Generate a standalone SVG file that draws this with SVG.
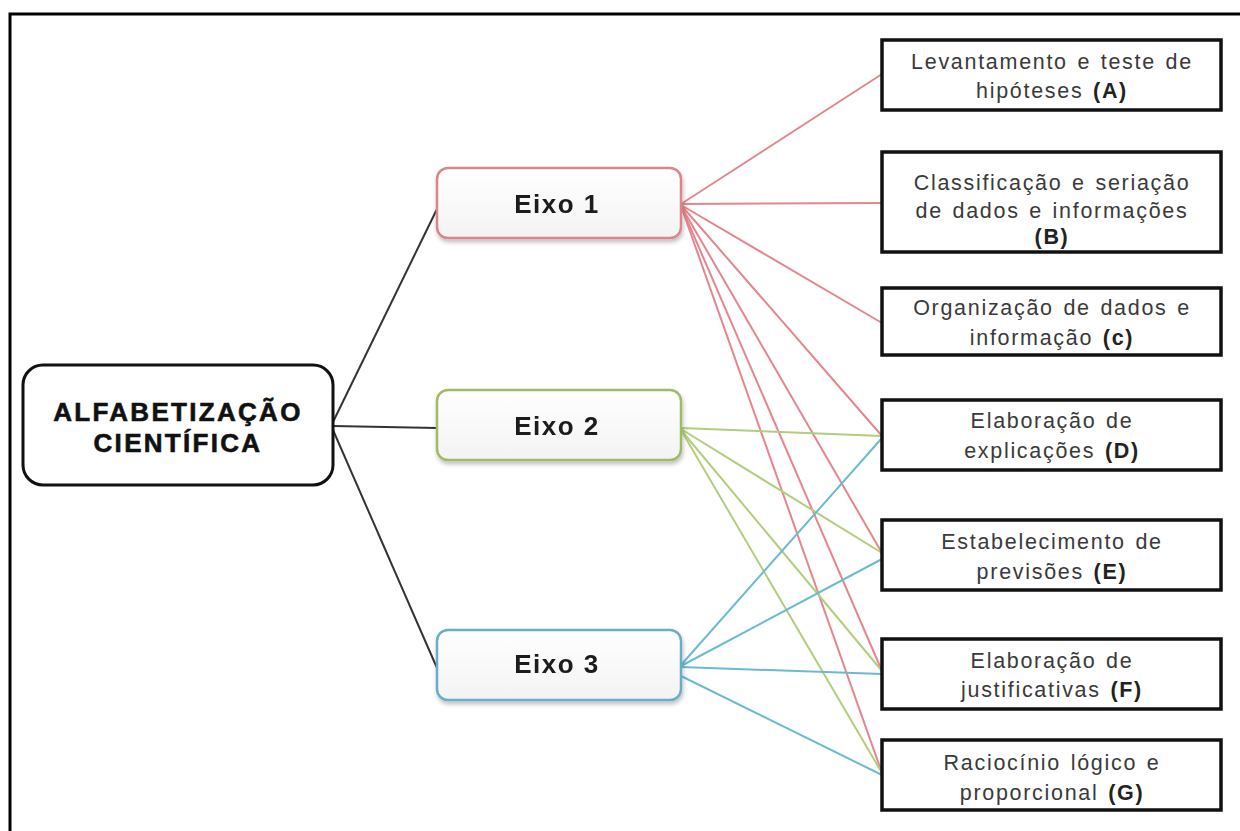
<svg xmlns="http://www.w3.org/2000/svg" width="1240" height="831" viewBox="0 0 1240 831">
<defs>
<style>
.frame{fill:none;stroke:#000;stroke-width:3}
.root{fill:#fff;stroke:#111;stroke-width:3}
.eixo{fill:url(#eg);stroke-width:2.5}
.box{fill:#fff;stroke:#111;stroke-width:3.5}
.t{font-family:"Liberation Sans",Arial,sans-serif;text-anchor:middle}
.rt{font-size:26px;font-weight:bold;fill:#111;stroke:#111;stroke-width:0.6;letter-spacing:2.3px}
.et{font-size:26px;font-weight:bold;fill:#1a1a1a;letter-spacing:1.5px}
.bt{font-size:21.5px;fill:#3a3a3a;letter-spacing:1.7px;word-spacing:2px}
.bt tspan.b{font-weight:bold;fill:#222}
.k{stroke:#333;stroke-width:2;fill:none}
.r{stroke:#e3868e;stroke-width:2;fill:none}
.g{stroke:#b3cd7e;stroke-width:2;fill:none}
.c{stroke:#6cbad0;stroke-width:2;fill:none}
</style>
<linearGradient id="eg" x1="0" y1="0" x2="0" y2="1">
<stop offset="0" stop-color="#ffffff"/>
<stop offset="1" stop-color="#f3f3f3"/>
</linearGradient>
<filter id="sh" x="-10%" y="-20%" width="120%" height="150%">
<feDropShadow dx="1" dy="3" stdDeviation="2" flood-color="#000" flood-opacity="0.25"/>
</filter>
</defs>
<rect width="1240" height="831" fill="#fff"/>
<path class="frame" d="M10 831 V14 H1240"/>

<g id="connectors">
<line class="k" x1="333" y1="422" x2="437" y2="209"/>
<line class="k" x1="333" y1="426" x2="437" y2="428"/>
<line class="k" x1="333" y1="430" x2="437" y2="668"/>
<line class="r" x1="681" y1="204" x2="882" y2="74"/>
<line class="r" x1="681" y1="204" x2="882" y2="203"/>
<line class="r" x1="681" y1="205" x2="882" y2="323"/>
<line class="r" x1="681" y1="205" x2="882" y2="436"/>
<line class="r" x1="681" y1="206" x2="882" y2="553"/>
<line class="r" x1="681" y1="206" x2="882" y2="671"/>
<line class="r" x1="681" y1="206" x2="882" y2="773"/>
<line class="g" x1="681" y1="428" x2="882" y2="436"/>
<line class="g" x1="681" y1="429" x2="882" y2="553"/>
<line class="g" x1="681" y1="430" x2="882" y2="671"/>
<line class="g" x1="681" y1="430" x2="882" y2="773"/>
<line class="c" x1="681" y1="665" x2="882" y2="438"/>
<line class="c" x1="681" y1="666" x2="882" y2="559"/>
<line class="c" x1="681" y1="667" x2="882" y2="674"/>
<line class="c" x1="681" y1="676" x2="882" y2="775"/>
</g>

<g id="root">
<rect class="root" x="23" y="365" width="310" height="120" rx="20"/>
<text class="t rt" x="178" y="421">ALFABETIZAÇÃO</text>
<text class="t rt" x="178" y="452">CIENTÍFICA</text>
</g>

<g id="eixo1" filter="url(#sh)">
<rect class="eixo" x="437" y="168" width="244" height="70" rx="11" stroke="#d9868c"/>
<text class="t et" x="557" y="213">Eixo 1</text>
</g>
<g id="eixo2" filter="url(#sh)">
<rect class="eixo" x="437" y="390" width="244" height="70" rx="11" stroke="#9fbb66"/>
<text class="t et" x="557" y="435">Eixo 2</text>
</g>
<g id="eixo3" filter="url(#sh)">
<rect class="eixo" x="437" y="630" width="244" height="70" rx="11" stroke="#6aaec4"/>
<text class="t et" x="557" y="673">Eixo 3</text>
</g>

<g id="nodeA">
<rect class="box" x="882" y="40" width="339" height="70"/>
<text class="t bt" x="1052" y="69">Levantamento  e teste de</text>
<text class="t bt" x="1052" y="98">hipóteses <tspan class="b">(A)</tspan></text>
</g>
<g id="nodeB">
<rect class="box" x="882" y="152" width="339" height="100"/>
<text class="t bt" x="1052" y="190">Classificação e seriação</text>
<text class="t bt" x="1052" y="218">de dados e informações</text>
<text class="t bt" x="1052" y="244"><tspan class="b">(B)</tspan></text>
</g>
<g id="nodeC">
<rect class="box" x="882" y="288" width="339" height="67"/>
<text class="t bt" x="1052" y="315">Organização de dados e</text>
<text class="t bt" x="1052" y="345">informação <tspan class="b">(c)</tspan></text>
</g>
<g id="nodeD">
<rect class="box" x="882" y="400" width="339" height="70"/>
<text class="t bt" x="1052" y="428">Elaboração de</text>
<text class="t bt" x="1052" y="458">explicações <tspan class="b">(D)</tspan></text>
</g>
<g id="nodeE">
<rect class="box" x="882" y="520" width="339" height="70"/>
<text class="t bt" x="1052" y="549">Estabelecimento de</text>
<text class="t bt" x="1052" y="579">previsões <tspan class="b">(E)</tspan></text>
</g>
<g id="nodeF">
<rect class="box" x="882" y="639" width="339" height="70"/>
<text class="t bt" x="1052" y="668">Elaboração de</text>
<text class="t bt" x="1052" y="697">justificativas <tspan class="b">(F)</tspan></text>
</g>
<g id="nodeG">
<rect class="box" x="882" y="740" width="339" height="70"/>
<text class="t bt" x="1052" y="770">Raciocínio lógico e</text>
<text class="t bt" x="1052" y="800">proporcional <tspan class="b">(G)</tspan></text>
</g>
</svg>
